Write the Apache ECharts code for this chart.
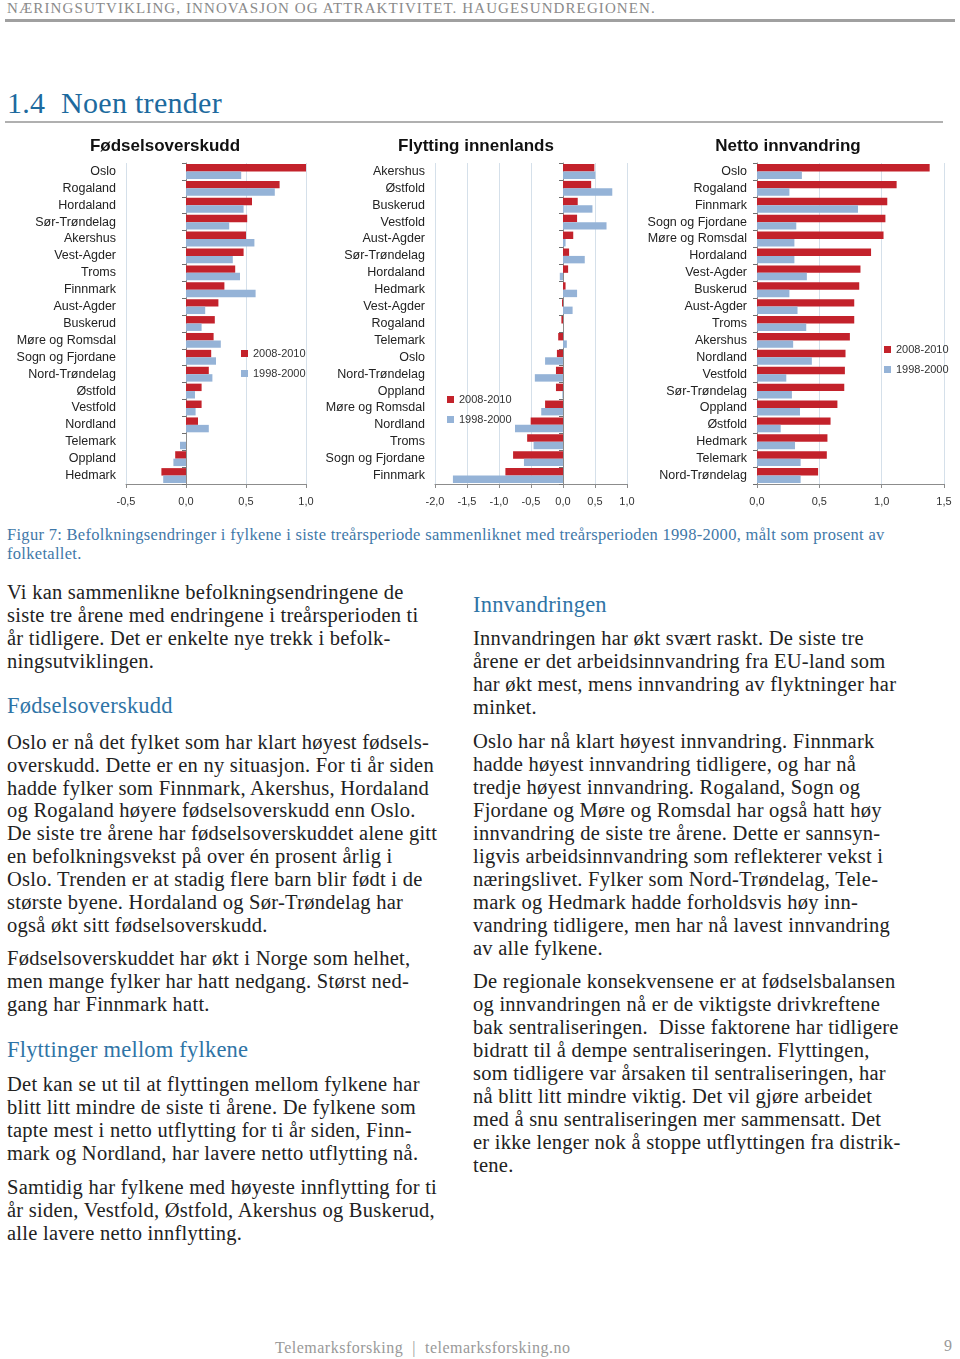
<!DOCTYPE html>
<html><head><meta charset="utf-8">
<script src="https://cdn.jsdelivr.net/npm/echarts@6/dist/echarts.min.js"></script>
<style>
html,body{margin:0;padding:0;background:#fff;width:960px;height:1359px;overflow:hidden;position:relative}
.t{position:absolute;white-space:nowrap;font-family:"Liberation Serif","DejaVu Serif",serif;}
.b{font-size:20.5px;color:#222;line-height:24px;letter-spacing:0.25px}
.h{font-size:22.5px;color:#2f74a6;line-height:26px;letter-spacing:0.2px}
#chart{position:absolute;left:0;top:130px;width:960px;height:390px}
</style></head><body>
<div class="t" style="left:7px;top:0px;font-size:15px;color:#8a8a8a;letter-spacing:1.1px">NÆRINGSUTVIKLING, INNOVASJON OG ATTRAKTIVITET. HAUGESUNDREGIONEN.</div>
<div style="position:absolute;left:5px;top:19px;width:950px;height:3px;background:#a0a0a0"></div>
<div class="t" style="left:7px;top:86px;font-size:30px;color:#1d6a9e;letter-spacing:0.3px">1.4&nbsp; Noen trender</div>
<div style="position:absolute;left:5px;top:121px;width:938px;height:2px;background:#b0b0b0"></div>
<div id="chart"></div>
<div class="t" style="left:7px;top:525px;font-size:16.5px;color:#3f78a8;line-height:19px;letter-spacing:0.3px">Figur 7: Befolkningsendringer i fylkene i siste treårsperiode sammenliknet med treårsperioden 1998-2000, målt som prosent av<br>folketallet.</div>
<div id="text"></div>
<div class="t" style="left:275px;top:1339px;font-size:16px;color:#999;letter-spacing:0.5px">Telemarksforsking&nbsp; | &nbsp;telemarksforsking.no</div>
<div class="t" style="left:944px;top:1337px;font-size:16px;color:#999">9</div>
<script>
// ---- chart data ----
const legendNames = ['2008-2010', '1998-2000'];
const fodCats = ['Oslo','Rogaland','Hordaland','Sør-Trøndelag','Akershus','Vest-Agder','Troms','Finnmark','Aust-Agder','Buskerud','Møre og Romsdal','Sogn og Fjordane','Nord-Trøndelag','Østfold','Vestfold','Nordland','Telemark','Oppland','Hedmark'];
const fod2010 = [1.0,0.78,0.55,0.51,0.50,0.48,0.41,0.32,0.27,0.24,0.23,0.21,0.19,0.13,0.13,0.10,0.0,-0.09,-0.205];
const fod2000 = [0.46,0.74,0.48,0.36,0.57,0.39,0.45,0.58,0.16,0.13,0.29,0.25,0.22,0.075,0.08,0.19,-0.05,-0.105,-0.19];

const flyCats = ['Akershus','Østfold','Buskerud','Vestfold','Aust-Agder','Sør-Trøndelag','Hordaland','Hedmark','Vest-Agder','Rogaland','Telemark','Oslo','Nord-Trøndelag','Oppland','Møre og Romsdal','Nordland','Troms','Sogn og Fjordane','Finnmark'];
const fly2010 = [0.49,0.44,0.23,0.22,0.16,0.095,0.08,0.04,-0.015,-0.025,-0.075,-0.095,-0.11,-0.11,-0.28,-0.505,-0.56,-0.78,-0.9];
const fly2000 = [0.505,0.77,0.46,0.68,0.04,0.34,-0.05,0.22,0.15,0.0,0.06,-0.28,-0.44,-0.01,-0.34,-0.75,-0.46,-0.61,-1.72];

const innCats = ['Oslo','Rogaland','Finnmark','Sogn og Fjordane','Møre og Romsdal','Hordaland','Vest-Agder','Buskerud','Aust-Agder','Troms','Akershus','Nordland','Vestfold','Sør-Trøndelag','Oppland','Østfold','Hedmark','Telemark','Nord-Trøndelag'];
const inn2010 = [1.385,1.12,1.045,1.03,1.015,0.915,0.83,0.82,0.78,0.78,0.745,0.71,0.705,0.70,0.645,0.59,0.565,0.56,0.49];
const inn2000 = [0.36,0.26,0.81,0.315,0.30,0.30,0.40,0.26,0.325,0.395,0.29,0.44,0.235,0.28,0.345,0.19,0.305,0.35,0.35];

const chartTitles = ['Fødselsoverskudd','Flytting innenlands','Netto innvandring'];
const xMins = [-0.5, -2.0, 0.0];
const xMaxs = [1.0, 1.0, 1.5];

// ---- layout ----
const RED = '#c3222b', BLUE = '#95b3d7';
const FONT = '"Liberation Sans", Arial, sans-serif';
const grids = [
  {left:126, width:180, top:33, height:321},
  {left:435, width:192, top:33, height:321},
  {left:757, width:187, top:33, height:321}
];
const titleX = [165, 476, 788];
const legendPos = [{left:236, top:213},{left:442, top:259},{left:879, top:209}];
const cats = [fodCats, flyCats, innCats];
const s2010 = [fod2010, fly2010, inn2010];
const s2000 = [fod2000, fly2000, inn2000];

const fmt = v => v.toFixed(1).replace('.', ',');
const option = {
  animation:false,
  textStyle:{fontFamily:FONT},
  grid: grids,
  xAxis: grids.map((g,i)=>({
    type:'value', gridIndex:i, min:xMins[i], max:xMaxs[i], interval:0.5,
    axisLine:{show:true, lineStyle:{color:'#8c8c8c'}},
    axisTick:{show:true, length:4, lineStyle:{color:'#8c8c8c'}},
    axisLabel:{formatter:fmt, fontSize:11, color:'#333', margin:12, fontFamily:FONT},
    splitLine:{show:true, lineStyle:{color:'#d5e0ea', width:1}}
  })),
  yAxis: [],
  legend: legendPos.map(p=>({
    data:legendNames, orient:'vertical', left:p.left, top:p.top,
    icon:'rect', itemWidth:7, itemHeight:7, itemGap:9,
    textStyle:{fontSize:11, color:'#333', fontFamily:FONT}, selectedMode:false
  })),
  graphic: chartTitles.map((t,i)=>({
    type:'text', x:titleX[i], y:16,
    style:{text:t, font:'bold 17px ' + FONT, fill:'#111', textAlign:'center', textVerticalAlign:'middle'}
  })),
  series: []
};
for (let i=0;i<3;i++){
  option.yAxis.push({
    type:'category', gridIndex:i, data:cats[i], inverse:true,
    axisLine:{show:false, onZero:false}, axisTick:{show:false},
    axisLabel:{fontSize:12.5, color:'#222', margin:10, fontFamily:FONT, interval:0}
  });
}
for (let i=0;i<3;i++){
  option.yAxis.push({
    type:'category', gridIndex:i, data:cats[i], inverse:true, position:'right',
    axisLine:{show:true, onZero:true, lineStyle:{color:'#8c8c8c'}},
    axisTick:{show:true, inside:true, length:4, lineStyle:{color:'#6e6e6e'}},
    axisLabel:{show:false}
  });
}
for (let i=0;i<3;i++){
  option.series.push({
    type:'bar', name:legendNames[0], xAxisIndex:i, yAxisIndex:i, data:s2010[i],
    itemStyle:{color:RED}, barGap:'0%', barCategoryGap:'12%'
  });
  option.series.push({
    type:'bar', name:legendNames[1], xAxisIndex:i, yAxisIndex:i, data:s2000[i],
    itemStyle:{color:BLUE}, barGap:'0%', barCategoryGap:'12%'
  });
}
const chart = echarts.init(document.getElementById('chart'), null, {renderer:'canvas'});
chart.setOption(option);

// ---- page text ----
const textLines = [
 [7,592,'b','Vi kan sammenlikne befolkningsendringene de'],
 [7,615,'b','siste tre årene med endringene i treårsperioden ti'],
 [7,638,'b','år tidligere. Det er enkelte nye trekk i befolk-'],
 [7,661,'b','ningsutviklingen.'],
 [7,706,'h','Fødselsoverskudd'],
 [7,742,'b','Oslo er nå det fylket som har klart høyest fødsels-'],
 [7,765,'b','overskudd. Dette er en ny situasjon. For ti år siden'],
 [7,788,'b','hadde fylker som Finnmark, Akershus, Hordaland'],
 [7,810,'b','og Rogaland høyere fødselsoverskudd enn Oslo.'],
 [7,833,'b','De siste tre årene har fødselsoverskuddet alene gitt'],
 [7,856,'b','en befolkningsvekst på over én prosent årlig i'],
 [7,879,'b','Oslo. Trenden er at stadig flere barn blir født i de'],
 [7,902,'b','største byene. Hordaland og Sør-Trøndelag har'],
 [7,925,'b','også økt sitt fødselsoverskudd.'],
 [7,958,'b','Fødselsoverskuddet har økt i Norge som helhet,'],
 [7,981,'b','men mange fylker har hatt nedgang. Størst ned-'],
 [7,1004,'b','gang har Finnmark hatt.'],
 [7,1050,'h','Flyttinger mellom fylkene'],
 [7,1084,'b','Det kan se ut til at flyttingen mellom fylkene har'],
 [7,1107,'b','blitt litt mindre de siste ti årene. De fylkene som'],
 [7,1130,'b','tapte mest i netto utflytting for ti år siden, Finn-'],
 [7,1153,'b','mark og Nordland, har lavere netto utflytting nå.'],
 [7,1187,'b','Samtidig har fylkene med høyeste innflytting for ti'],
 [7,1210,'b','år siden, Vestfold, Østfold, Akershus og Buskerud,'],
 [7,1233,'b','alle lavere netto innflytting.'],
 [473,605,'h','Innvandringen'],
 [473,638,'b','Innvandringen har økt svært raskt. De siste tre'],
 [473,661,'b','årene er det arbeidsinnvandring fra EU-land som'],
 [473,684,'b','har økt mest, mens innvandring av flyktninger har'],
 [473,707,'b','minket.'],
 [473,741,'b','Oslo har nå klart høyest innvandring. Finnmark'],
 [473,764,'b','hadde høyest innvandring tidligere, og har nå'],
 [473,787,'b','tredje høyest innvandring. Rogaland, Sogn og'],
 [473,810,'b','Fjordane og Møre og Romsdal har også hatt høy'],
 [473,833,'b','innvandring de siste tre årene. Dette er sannsyn-'],
 [473,856,'b','ligvis arbeidsinnvandring som reflekterer vekst i'],
 [473,879,'b','næringslivet. Fylker som Nord-Trøndelag, Tele-'],
 [473,902,'b','mark og Hedmark hadde forholdsvis høy inn-'],
 [473,925,'b','vandring tidligere, men har nå lavest innvandring'],
 [473,948,'b','av alle fylkene.'],
 [473,981,'b','De regionale konsekvensene er at fødselsbalansen'],
 [473,1004,'b','og innvandringen nå er de viktigste drivkreftene'],
 [473,1027,'b','bak sentraliseringen.&nbsp; Disse faktorene har tidligere'],
 [473,1050,'b','bidratt til å dempe sentraliseringen. Flyttingen,'],
 [473,1073,'b','som tidligere var årsaken til sentraliseringen, har'],
 [473,1096,'b','nå blitt litt mindre viktig. Det vil gjøre arbeidet'],
 [473,1119,'b','med å snu sentraliseringen mer sammensatt. Det'],
 [473,1142,'b','er ikke lenger nok å stoppe utflyttingen fra distrik-'],
 [473,1165,'b','tene.']
];
const tc = document.getElementById('text');
textLines.forEach(([x,y,c,s])=>{
  const d = document.createElement('div');
  d.className = 't ' + c;
  d.style.left = x + 'px';
  d.style.top = (y - (c==='h'?13:12)) + 'px';
  d.innerHTML = s;
  tc.appendChild(d);
});
</script>
</body></html>
